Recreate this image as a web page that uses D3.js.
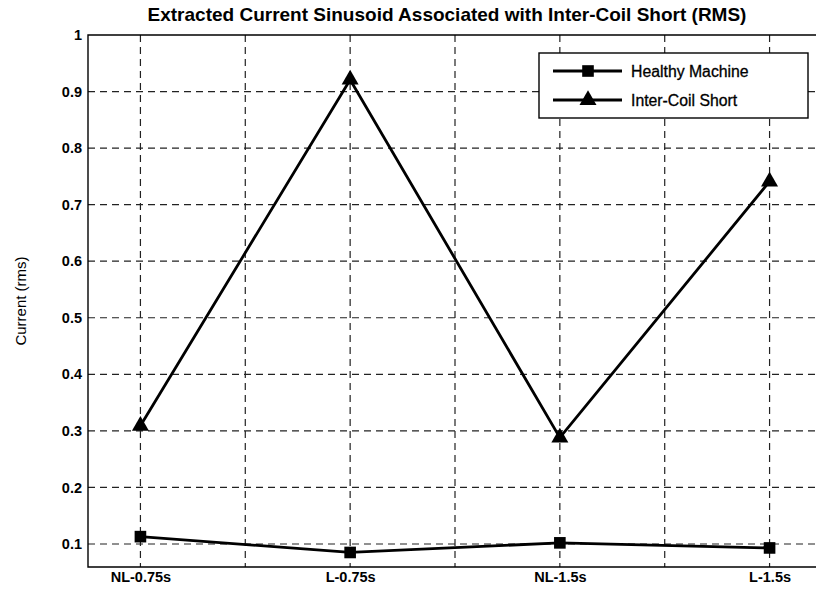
<!DOCTYPE html>
<html><head><meta charset="utf-8">
<script src="https://cdn.jsdelivr.net/npm/d3@7"></script>
<style>body{margin:0;background:#fff}svg{display:block;font-family:"Liberation Sans",Arial,sans-serif}</style>
</head><body><svg id="c" width="816" height="589"></svg>
<script>
const categories = ["NL-0.75s","L-0.75s","NL-1.5s","L-1.5s"];
const healthy = [0.113, 0.085, 0.102, 0.093];
const interCoil = [0.309, 0.921, 0.288, 0.741];
const yTicks = [0.1,0.2,0.3,0.4,0.5,0.6,0.7,0.8,0.9,1];
const xGrid = [1,1.5,2,2.5,3,3.5,4];
const seriesNames = ["Healthy Machine","Inter-Coil Short"];

const svg = d3.select("#c");
const L = 88, R = 822, T = 35, B = 567;
const x = d3.scaleLinear().domain([0.75, 4.25]).range([L, R]);
const y = d3.scaleLinear().domain([0.0593, 1]).range([B, T]);

// grid
const g = svg.append("g");
g.selectAll(".hg").data(yTicks.filter(d=>d<1)).join("line")
  .attr("x1",L).attr("x2",R).attr("y1",d=>y(d)).attr("y2",d=>y(d))
  .attr("stroke","#222").attr("stroke-width",1.2).attr("stroke-dasharray","7,5");
g.selectAll(".vg").data(xGrid).join("line")
  .attr("x1",d=>x(d)).attr("x2",d=>x(d)).attr("y1",T).attr("y2",B)
  .attr("stroke","#222").attr("stroke-width",1.2).attr("stroke-dasharray","7,5");

// frame
svg.append("path").attr("d",`M${R},${T}H${L}V${B}H${R}`).attr("fill","none").attr("stroke","#000").attr("stroke-width",1.4);

// y axis labels
const yAxis = d3.axisLeft(y).tickValues(yTicks).tickFormat(d=>d3.format("")(+d.toFixed(1))).tickSize(0).tickPadding(6);
const ya = svg.append("g").attr("transform",`translate(${L},0)`).call(yAxis);
ya.select(".domain").remove();
ya.selectAll("text").attr("font-size",14.5).attr("font-weight","bold").attr("fill","#000").attr("font-family","Liberation Sans, Arial, sans-serif");

// x axis labels
const xAxis = d3.axisBottom(x).tickValues([1,2,3,4]).tickFormat((d,i)=>categories[i]).tickSize(0).tickPadding(5);
const xa = svg.append("g").attr("transform",`translate(0,${B})`).call(xAxis);
xa.select(".domain").remove();
xa.selectAll("text").attr("font-size",14.5).attr("font-weight","bold").attr("fill","#000").attr("font-family","Liberation Sans, Arial, sans-serif");

// y label
svg.append("text").attr("transform",`translate(26,${(T+B)/2}) rotate(-90)`).attr("text-anchor","middle")
  .attr("font-size",15).attr("fill","#000").text("Current (rms)");

// title
svg.append("text").attr("x",447).attr("y",21).attr("text-anchor","middle")
  .attr("font-size",19).attr("font-weight","bold").attr("fill","#000")
  .text("Extracted Current Sinusoid Associated with Inter-Coil Short (RMS)");

const line = d3.line().x((d,i)=>x(i+1)).y(d=>y(d));
svg.append("path").datum(healthy).attr("d",line).attr("fill","none").attr("stroke","#000").attr("stroke-width",2.8);
svg.append("path").datum(interCoil).attr("d",line).attr("fill","none").attr("stroke","#000").attr("stroke-width",2.8);

const sq = d3.symbol().type(d3.symbolSquare).size(135);
const tri = d3.symbol().type(d3.symbolTriangle).size(125);
svg.selectAll(".sq").data(healthy).join("path").attr("d",sq)
  .attr("transform",(d,i)=>`translate(${x(i+1)},${y(d)})`).attr("fill","#000");
svg.selectAll(".tr").data(interCoil).join("path").attr("d",tri)
  .attr("transform",(d,i)=>`translate(${x(i+1)},${y(d)})`).attr("fill","#000");

// legend
const lg = svg.append("g");
lg.append("rect").attr("x",539).attr("y",53).attr("width",269).attr("height",65)
  .attr("fill","#fff").attr("stroke","#000").attr("stroke-width",1.4);
const rows = [{n:seriesNames[0],s:sq,y:71},{n:seriesNames[1],s:tri,y:100}];
rows.forEach(r=>{
  lg.append("line").attr("x1",553).attr("x2",622).attr("y1",r.y).attr("y2",r.y).attr("stroke","#000").attr("stroke-width",2.8);
  lg.append("path").attr("d",r.s).attr("transform",`translate(588,${r.y})`).attr("fill","#000");
  lg.append("text").attr("x",631).attr("y",r.y+5.5).attr("font-size",15.8).attr("fill","#000")
    .attr("stroke","#000").attr("stroke-width",0.3).text(r.n);
});
</script></body></html>
